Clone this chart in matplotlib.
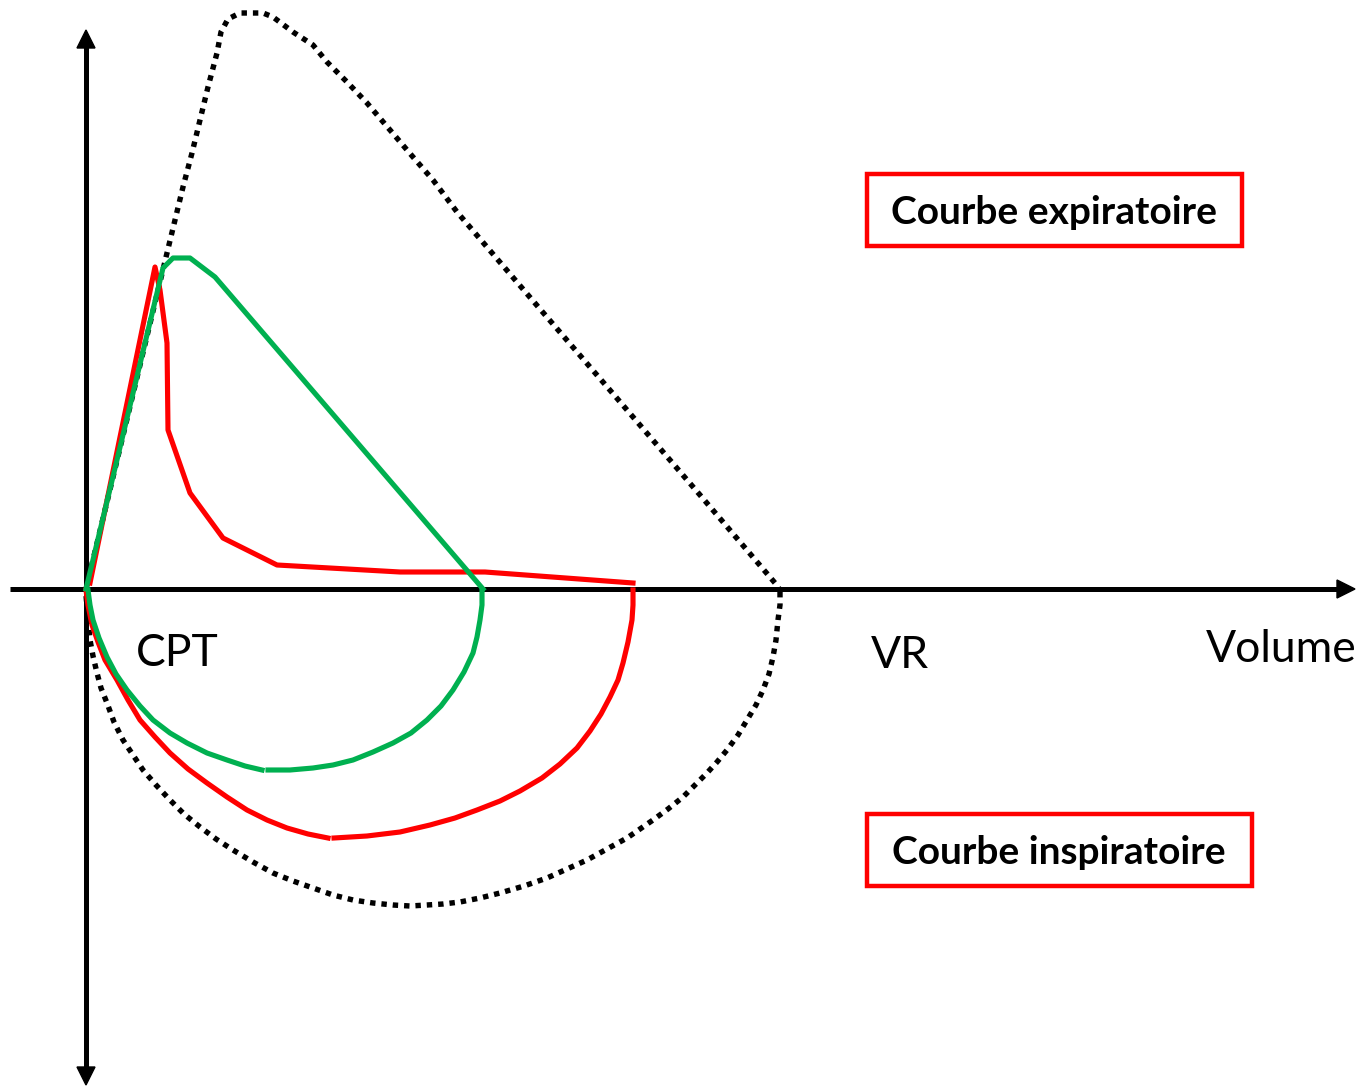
import matplotlib.pyplot as plt

# Courbes débit-volume, lues en pixels sur l'image (x vers la droite, y vers le bas)
X0, Y0 = 86, 589

# courbe normale (pointillés) : expiration puis inspiration
norm_exp_x = [86, 167, 175, 183, 192, 200, 208, 217, 221, 228, 240, 263, 273, 293, 313, 327, 347,
              367, 390, 413, 433, 457, 540, 615, 700, 775, 780]
norm_exp_y = [589, 253, 220, 187, 153, 120, 87, 53, 32, 19, 13, 13, 17, 32, 45, 62, 82,
              103, 130, 157, 180, 212, 309, 396, 495, 583, 590]
norm_insp_x = [780, 780, 778, 776, 773, 769, 763, 756, 747, 738, 727, 717, 707, 695, 683, 668, 653,
               640, 627, 607, 587, 567, 547, 524, 500, 480, 460, 443, 427, 410, 393, 373, 353,
               333, 313, 293, 273, 253, 233, 216, 200, 184, 170, 156, 143, 133, 123, 114, 107,
               101, 97, 93, 90, 88, 86]
norm_insp_y = [592, 605, 620, 640, 657, 674, 690, 705, 720, 735, 750, 762, 773, 785, 797, 809, 820,
               829, 838, 849, 860, 869, 878, 886, 893, 898, 902, 904, 905, 906, 905, 903, 900,
               895, 888, 881, 873, 862, 850, 839, 827, 814, 800, 785, 770, 755, 740, 722, 703,
               688, 673, 656, 640, 620, 595]

# courbe rouge
red_exp_x = [90, 155, 160, 167, 168, 190, 223, 277, 400, 485, 633]
red_exp_y = [583, 267, 290, 343, 430, 493, 538, 565, 572, 572, 583]
red_insp1_x = [86, 88, 92, 98, 105, 117, 128, 140, 155, 170, 188, 207, 227, 247, 267, 287, 308, 328]
red_insp1_y = [590, 605, 625, 642, 660, 680, 700, 720, 737, 753, 769, 783, 797, 810, 820, 828, 834, 838]
red_insp2_x = [334, 367, 400, 430, 455, 477, 500, 520, 542, 560, 577, 590, 601, 610, 618, 623, 628,
               632, 633, 633]
red_insp2_y = [838, 836, 832, 825, 818, 810, 801, 791, 778, 764, 748, 731, 714, 697, 680, 663, 642,
               620, 605, 590]

# courbe verte
green_exp_x = [86, 163, 173, 190, 215, 483]
green_exp_y = [589, 268, 258, 258, 277, 589]
green_insp1_x = [88, 90, 93, 99, 107, 116, 127, 140, 153, 170, 187, 207, 227, 245, 262]
green_insp1_y = [590, 605, 620, 638, 657, 674, 690, 706, 720, 733, 743, 753, 760, 766, 770]
green_insp2_x = [268, 290, 313, 333, 353, 373, 393, 411, 427, 441, 453, 464, 473, 477, 480, 482, 482]
green_insp2_y = [770, 770, 768, 765, 760, 752, 743, 733, 720, 706, 690, 672, 653, 637, 620, 605, 590]

RED = '#FF0000'
GREEN = '#00B050'

fig = plt.figure(figsize=(13.64, 10.87), dpi=100)
ax = fig.add_axes([0, 0, 1, 1])
ax.set_xlim(0, 1364)
ax.set_ylim(1087, 0)
ax.axis('off')

# axes avec flèches
ax.plot([10, 1340], [Y0, Y0], color='k', lw=3.6, solid_capstyle='butt')
ax.arrow(1330, Y0, 25, 0, width=0.1, head_width=18, head_length=18,
         length_includes_head=True, color='k')
ax.plot([X0, X0], [45, 1070], color='k', lw=3.6, solid_capstyle='butt')
ax.arrow(X0, 60, 0, -30, width=0.1, head_width=18, head_length=18,
         length_includes_head=True, color='k')
ax.arrow(X0, 1055, 0, 30, width=0.1, head_width=18, head_length=18,
         length_includes_head=True, color='k')

dots = dict(color='k', lw=3.9, linestyle=(0, (1, 1.1)), dash_capstyle='butt')
ax.plot(norm_exp_x, norm_exp_y, **dots)
ax.plot(norm_insp_x, norm_insp_y, **dots)

for xs, ys in [(red_exp_x, red_exp_y), (red_insp1_x, red_insp1_y), (red_insp2_x, red_insp2_y)]:
    ax.plot(xs, ys, color=RED, lw=3.7, solid_joinstyle='round')
for xs, ys in [(green_exp_x, green_exp_y), (green_insp1_x, green_insp1_y),
               (green_insp2_x, green_insp2_y)]:
    ax.plot(xs, ys, color=GREEN, lw=3.7, solid_joinstyle='round')

font = 'Lato'
ax.text(177, 654, 'CPT', fontsize=32, family=font, ha='center', va='center')
ax.text(900, 655, 'VR', fontsize=32, family=font, ha='center', va='center')
ax.text(1281, 649, 'Volume', fontsize=32, family=font, ha='center', va='center')

ax.add_patch(plt.Rectangle((867, 174), 375, 72, fill=False, ec=RED, lw=3.2))
ax.text(1054, 212, 'Courbe expiratoire', fontsize=28, family=font, weight='bold',
        ha='center', va='center')
ax.add_patch(plt.Rectangle((867, 814), 385, 72, fill=False, ec=RED, lw=3.2))
ax.text(1059, 852, 'Courbe inspiratoire', fontsize=28, family=font, weight='bold',
        ha='center', va='center')

fig.savefig('out.png', dpi=100)
